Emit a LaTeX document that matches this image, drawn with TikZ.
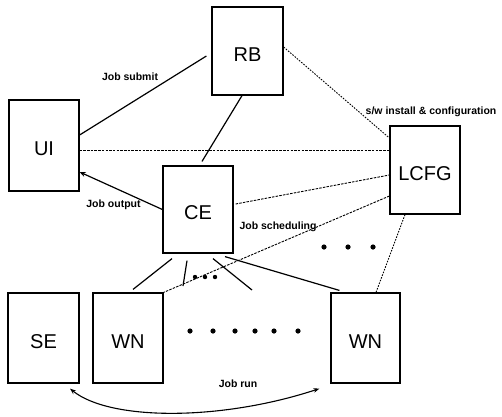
\documentclass[tikz,border=0pt]{standalone}
\usepackage{fontspec}
\setmainfont{Liberation Sans}
\usetikzlibrary{arrows.meta}
\begin{document}
\begin{tikzpicture}[x=1pt,y=-1pt,
  box/.style={draw, line width=1.2pt, inner sep=0pt, font=\fontsize{20}{24}\selectfont, text height=20.3pt, text depth=0pt},
  lbl/.style={font=\fontsize{10.5}{12}\selectfont\bfseries, inner sep=0pt},
  solidline/.style={line width=1.2pt},
  dashline/.style={line width=0.9pt, dash pattern=on 2.5pt off 1.2pt},
  dotline/.style={line width=0.9pt, dash pattern=on 1.6pt off 1.3pt},
  arr/.style={line width=1.2pt, -{Stealth[length=6pt,width=5pt]}},
  dblarr/.style={line width=1.1pt, {Stealth[length=6pt,width=4.5pt]}-{Stealth[length=6pt,width=4.5pt]}}]
\useasboundingbox (0,0) rectangle (502,416);

% boxes
\node[box, minimum width=71pt, minimum height=88pt] (RB) at (247.5,51) {RB};
\node[box, minimum width=70pt, minimum height=91pt] (UI) at (44,145.5) {UI};
\node[box, minimum width=70pt, minimum height=87pt] (CE) at (198,209.5) {CE};
\node[box, minimum width=70pt, minimum height=88pt] (LCFG) at (425,170) {LCFG};
\node[box, minimum width=71pt, minimum height=90pt] (SE) at (43.5,338) {SE};
\node[box, minimum width=70pt, minimum height=90pt] (WN1) at (128,338) {WN};
\node[box, minimum width=69pt, minimum height=90pt] (WN2) at (365.5,338) {WN};

% free ends
\coordinate (f1) at (183,286);
\coordinate (f2) at (252,290);

% solid connectors
\draw[solidline] ([yshift=10.5pt]UI.east) -- ([xshift=-5pt,yshift=-5pt]RB.west);
\draw[solidline] ([xshift=-5.5pt]RB.south) -- ([xshift=4pt,yshift=4pt]CE.north);
\draw[arr] (CE.west) -- ([yshift=-26.5pt]UI.east);
\draw[solidline] ([xshift=-26pt,yshift=-5pt]CE.south) -- ([xshift=5pt,yshift=3pt]WN1.north);
\draw[solidline] ([xshift=-11pt,yshift=-7pt]CE.south) -- (f1);
\draw[solidline] ([xshift=15pt,yshift=-5pt]CE.south) -- (f2);
\draw[solidline] ([xshift=27pt,yshift=-3pt]CE.south) -- ([xshift=9pt,yshift=2pt]WN2.north west);

% dashed connectors
\draw[dashline] ([yshift=-4.5pt]UI.east) -- ([yshift=20pt]LCFG.west);
\draw[dotline] ([yshift=4pt]RB.east) -- ([yshift=32pt]LCFG.west);
\draw[dashline] ([xshift=2pt,yshift=5.5pt]CE.east) -- ([yshift=-5pt]LCFG.west);
\draw[dashline] ([yshift=-26pt]LCFG.west) -- (WN1.north east);
\draw[dotline] ([xshift=-20pt]LCFG.south) -- ([xshift=10.5pt]WN2.north);

% job run arrow
\draw[dblarr] ([xshift=26.5pt,yshift=-5pt]SE.south) .. controls (110,421) and (221,421) .. ([xshift=-11pt,yshift=-5pt]WN2.south west);

% dots
\foreach \x in {195,205,215} \fill (\x,277) circle (2.2pt);
\foreach \x in {324,348,373} \fill (\x,247) circle (2.6pt);
\foreach \x in {190,213,235,255,274,298} \fill (\x,331) circle (2.6pt);

% labels
\node[lbl] (ljs) at (130,77) {Job submit};
\node[lbl] (ljo) at (113.5,205) {Job output};
\node[lbl] (ljsch) at (278,227) {Job scheduling};
\node[lbl] (lsw) at (431,112) {s/w install \& configuration};
\node[lbl] (ljr) at (238,384) {Job run};
\end{tikzpicture}
\end{document}
